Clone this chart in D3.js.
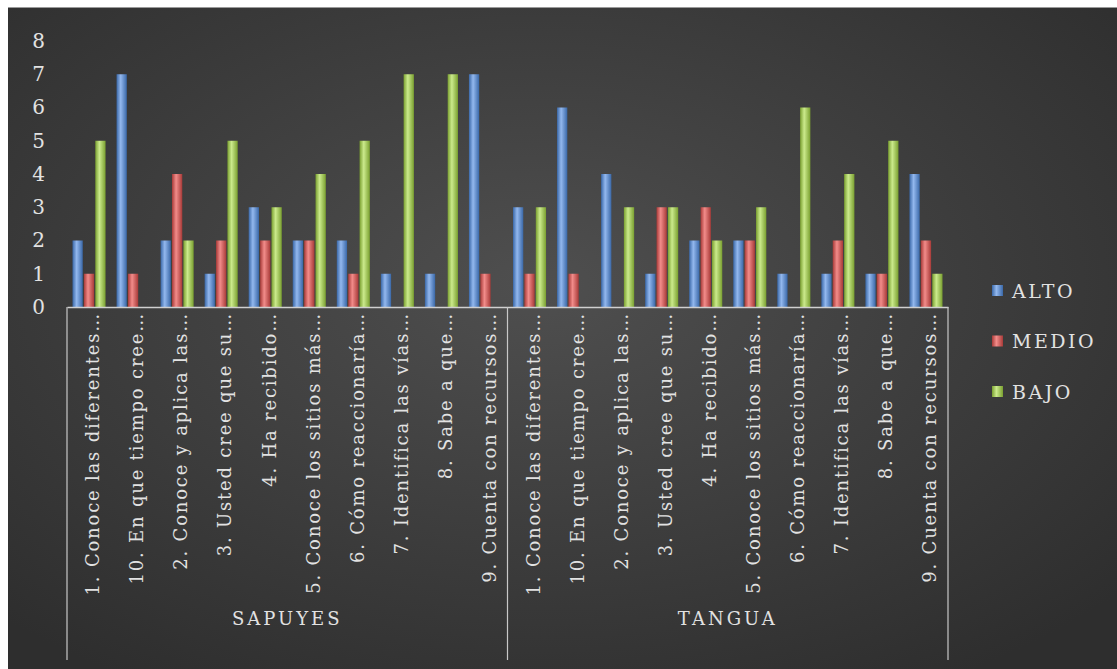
<!DOCTYPE html>
<html><head><meta charset="utf-8">
<script src="https://cdn.jsdelivr.net/npm/d3@7/dist/d3.min.js"></script>
<style>
html,body{margin:0;padding:0;background:#fff;}
svg{display:block;}
</style></head>
<body>
<svg id="c" width="1117" height="669"></svg>
<script>
const groups = ["SAPUYES", "TANGUA"];
const questions = ["1. Conoce las diferentes…", "10. En que tiempo cree…", "2. Conoce y aplica las…", "3. Usted cree que su…", "4. Ha recibido…", "5. Conoce los sitios más…", "6. Cómo reaccionaría…", "7. Identifica las vías…", "8. Sabe a que…", "9. Cuenta con recursos…"];
const series = ["ALTO", "MEDIO", "BAJO"];
const alto  = [2, 7, 2, 1, 3, 2, 2, 1, 1, 7,   3, 6, 4, 1, 2, 2, 1, 1, 1, 4];
const medio = [1, 1, 4, 2, 2, 2, 1, 0, 0, 1,   1, 1, 0, 3, 3, 2, 0, 2, 1, 2];
const bajo  = [5, 0, 2, 5, 3, 4, 5, 7, 7, 0,   3, 0, 3, 3, 2, 3, 6, 4, 5, 1];
const yTicks = [0, 1, 2, 3, 4, 5, 6, 7, 8];

const colors = {ALTO: ["#3a68a8", "#93b8ee"], MEDIO: ["#a83a38", "#f28c8a"], BAJO: ["#7aa030", "#cbea8c"]};

const cats = [];
groups.forEach(g => questions.forEach(q => cats.push({key: g + "|" + q, group: g, label: q})));
const rows = cats.map((c, i) => ({...c, i, ALTO: alto[i], MEDIO: medio[i], BAJO: bajo[i]}));

const svg = d3.select("#c");
const defs = svg.append("defs");
const bg = defs.append("radialGradient").attr("id", "bg").attr("cx", "48%").attr("cy", "42%").attr("r", "70%");
bg.append("stop").attr("offset", "0%").attr("stop-color", "#4f4f4f");
bg.append("stop").attr("offset", "100%").attr("stop-color", "#2e2e2e");
series.forEach(s => {
  const lg = defs.append("linearGradient").attr("id", "g" + s).attr("x1", "0").attr("x2", "1").attr("y1", "0").attr("y2", "0");
  lg.append("stop").attr("offset", "0%").attr("stop-color", colors[s][0]);
  lg.append("stop").attr("offset", "40%").attr("stop-color", colors[s][1]);
  lg.append("stop").attr("offset", "100%").attr("stop-color", colors[s][0]);
});

svg.append("rect").attr("x", 8).attr("y", 7).attr("width", 1109).attr("height", 662).attr("fill", "url(#bg)");
svg.append("line").attr("x1", 8).attr("x2", 1117).attr("y1", 7.5).attr("y2", 7.5).attr("stroke", "#9a9a9a").attr("stroke-width", 1);

const x0 = d3.scaleBand().domain(cats.map(c => c.key)).range([67, 948]).paddingInner(0).paddingOuter(0);
const x1 = d3.scaleBand().domain(series).range([5.5, x0.bandwidth() - 5.5]).paddingInner(0.1);
const y = d3.scaleLinear().domain([0, 8]).range([307, 41]);

const textCol = "#e2e2e2";
const font = "'DejaVu Serif', serif";

// y axis labels
const yAxis = svg.append("g").attr("transform", "translate(45,0)").call(d3.axisLeft(y).tickValues(yTicks).tickSize(0).tickPadding(0));
yAxis.select(".domain").remove();
yAxis.selectAll("text").attr("fill", textCol).attr("font-family", font).attr("font-size", 20).attr("text-anchor", "end");

// bars
const gCat = svg.append("g").selectAll("g").data(rows).join("g").attr("transform", d => `translate(${x0(d.key)},0)`);
gCat.selectAll("rect").data(d => series.map(s => ({s, v: d[s]}))).join("rect")
  .attr("x", d => x1(d.s)).attr("width", x1.bandwidth())
  .attr("y", d => y(d.v)).attr("height", d => y(0) - y(d.v))
  .attr("fill", d => `url(#g${d.s})`);

// x axis line
const xAxis = svg.append("g").attr("transform", `translate(0,${y(0)})`).call(d3.axisBottom(x0).tickSize(0).tickFormat(k => k.split("|")[1]));
xAxis.select(".domain").attr("stroke", "#d0d0d0").attr("stroke-width", 1.5);
xAxis.selectAll(".tick text")
  .attr("fill", textCol).attr("font-family", font).attr("font-size", 18).attr("letter-spacing", 1.8)
  .attr("text-anchor", "end").attr("dy", "0.35em")
  .attr("transform", "translate(4,5) rotate(-90)").attr("x", 0).attr("y", 0);

// group separators
const seps = [67].concat(groups.map((g, gi) => x0(cats[(gi + 1) * questions.length - 1].key) + x0.bandwidth()));
svg.append("g").selectAll("line").data(seps).join("line")
  .attr("x1", d => d).attr("x2", d => d).attr("y1", y(0)).attr("y2", 660)
  .attr("stroke", "#c8c8c8").attr("stroke-width", 1.2);

// group labels
svg.append("g").selectAll("text").data(groups).join("text")
  .attr("x", (g, gi) => (x0(cats[gi * questions.length].key) + x0(cats[(gi + 1) * questions.length - 1].key) + x0.bandwidth()) / 2)
  .attr("y", 619).attr("dy", "0.35em").attr("text-anchor", "middle")
  .attr("fill", textCol).attr("font-family", font).attr("font-size", 18).attr("letter-spacing", 3)
  .text(g => g);

// legend
const leg = svg.append("g").selectAll("g").data(series).join("g")
  .attr("transform", (s, i) => `translate(992,${291 + i * 50.5})`);
leg.append("rect").attr("x", 0).attr("y", -6).attr("width", 11).attr("height", 11).attr("fill", s => `url(#g${s})`);
leg.append("text").attr("x", 20).attr("dy", "0.35em").attr("fill", textCol)
  .attr("font-family", font).attr("font-size", 19).attr("letter-spacing", 2.5).text(s => s);
</script>
</body></html>
